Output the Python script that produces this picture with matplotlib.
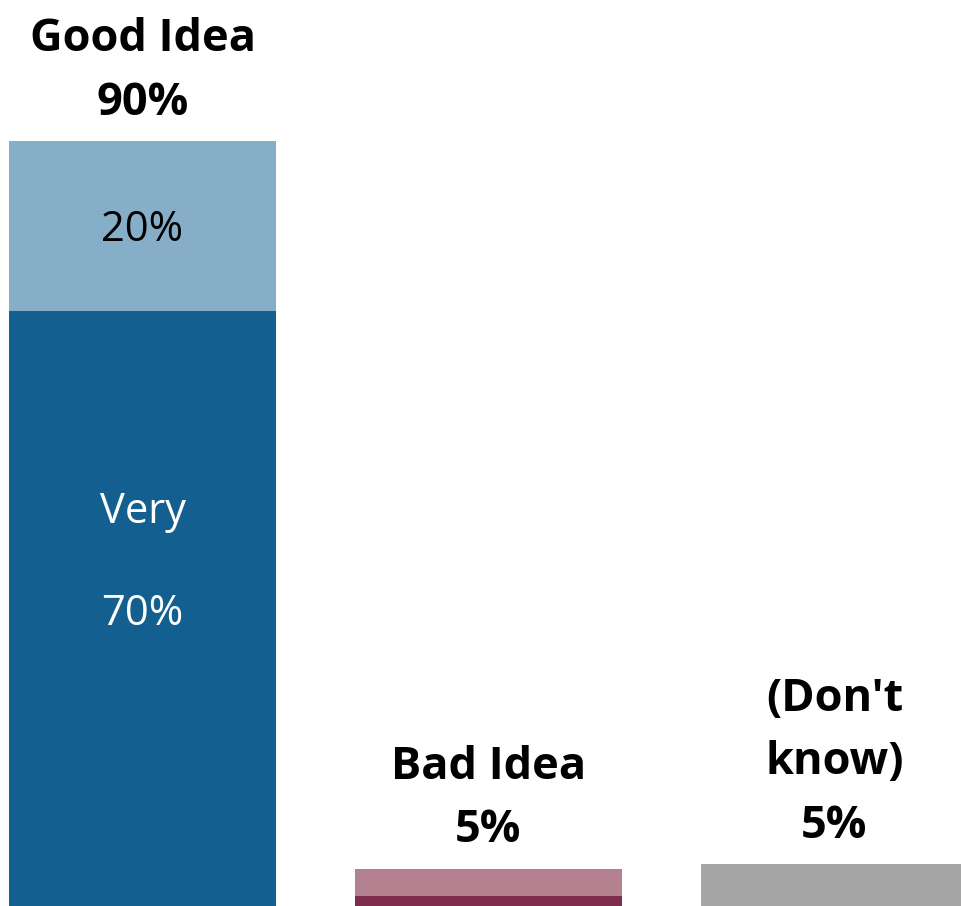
import matplotlib.pyplot as plt

plt.rcParams['font.family'] = ['Open Sans', 'DejaVu Sans']

categories = ['Good Idea', 'Bad Idea', "(Don't\nknow)"]
strong = [70, 1.2, 4.9]      # "Very" part / bottom segment
weak = [20, 3.2, 0]          # "Somewhat" part / top segment
totals = ['90%', '5%', '5%']

strong_colors = ['#135f8f', '#7d2d4b', '#a6a6a6']
weak_colors = ['#87aec8', '#b3818f', '#a6a6a6']

fig = plt.figure(figsize=(9.61, 9.06), dpi=100)
ax = fig.add_axes([0, 0, 1, 1])

x = range(len(categories))
ax.bar(x, strong, width=0.772, color=strong_colors)
ax.bar(x, weak, width=0.772, bottom=strong, color=weak_colors)

for i, cat in enumerate(categories):
    top = strong[i] + weak[i]
    ax.annotate(f'{cat}\n{totals[i]}', (i, top), xytext=(0, 11),
                textcoords='offset points', ha='center', va='bottom',
                fontsize=32.5, fontweight='bold', linespacing=1.55)

# labels inside the first bar
ax.text(0, strong[0] + weak[0] / 2 - 0.5, f'{weak[0]}%', ha='center',
        va='center', fontsize=30, color='black')
ax.text(0, 46.3, 'Very', ha='center', va='center', fontsize=30, color='white')
ax.text(0, 34.4, f'{strong[0]}%', ha='center', va='center', fontsize=30,
        color='white')

ax.set_xlim(-0.412, 2.366)
ax.set_ylim(0, 906 / 8.5)
ax.axis('off')

plt.savefig('out.png')
